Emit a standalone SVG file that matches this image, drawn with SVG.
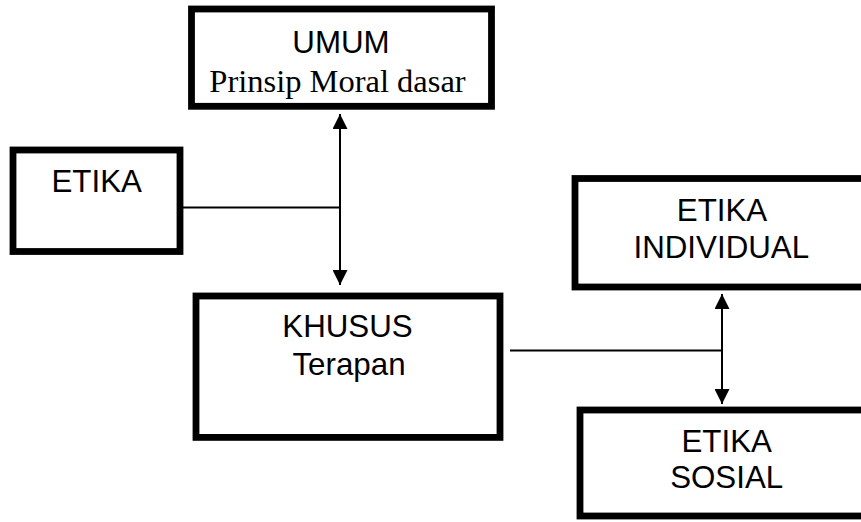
<svg xmlns="http://www.w3.org/2000/svg" width="861" height="522" viewBox="0 0 861 522">
<style>
.box{fill:#fff;stroke:#000;stroke-width:6.8}
.ln{fill:none;stroke:#000;stroke-width:2}
.s{font-family:"Liberation Sans",Arial,sans-serif;font-size:31.3px;fill:#000;text-anchor:middle}
.t{font-family:"Liberation Serif","Times New Roman",serif;font-size:32.5px;fill:#000;text-anchor:middle}
</style>
<defs>
<marker id="ah" markerUnits="userSpaceOnUse" markerWidth="16" markerHeight="15" refX="15" refY="7.5" orient="auto">
<path d="M0,0 L15,7.5 L0,15 Z" fill="#000"/>
</marker>
</defs>
<rect width="861" height="522" fill="#fff"/>
<g id="connectors">
<line class="ln" x1="340" y1="207.5" x2="183" y2="207.5"/>
<line class="ln" x1="340" y1="200" x2="340" y2="114" marker-end="url(#ah)"/>
<line class="ln" x1="340" y1="200" x2="340" y2="285" marker-end="url(#ah)"/>
<line class="ln" x1="510" y1="350.5" x2="722" y2="350.5"/>
<line class="ln" x1="722" y1="350" x2="722" y2="294" marker-end="url(#ah)"/>
<line class="ln" x1="722" y1="350" x2="722" y2="404" marker-end="url(#ah)"/>
</g>
<g id="umum">
<rect class="box" x="191.5" y="9" width="300" height="97.3"/>
<text class="s" x="341" y="53.3">UMUM</text>
<text class="t" x="337.5" y="91.7">Prinsip Moral dasar</text>
</g>
<g id="etika">
<rect class="box" x="13" y="150" width="167" height="101.5"/>
<text class="s" x="96.7" y="191.7">ETIKA</text>
</g>
<g id="khusus">
<rect class="box" x="196" y="296" width="304" height="141.4"/>
<text class="s" x="347.5" y="337.3">KHUSUS</text>
<text class="s" x="349" y="375">Terapan</text>
</g>
<g id="individual">
<rect class="box" x="575" y="178.5" width="300" height="108.5"/>
<text class="s" x="722" y="221">ETIKA</text>
<text class="s" x="721.3" y="257.7">INDIVIDUAL</text>
</g>
<g id="sosial">
<rect class="box" x="580" y="410" width="300" height="106"/>
<text class="s" x="726.7" y="451.7">ETIKA</text>
<text class="s" x="726.7" y="488.3">SOSIAL</text>
</g>
</svg>
